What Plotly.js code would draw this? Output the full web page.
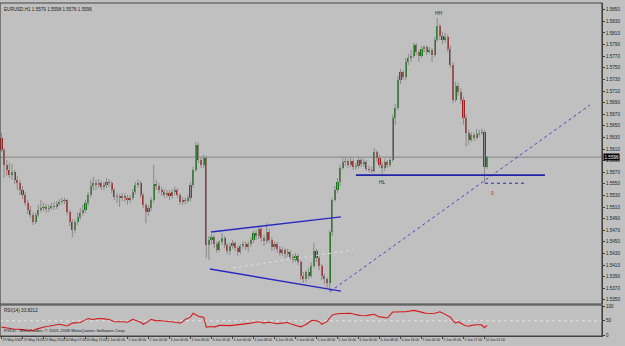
<!DOCTYPE html>
<html><head><meta charset="utf-8">
<script src="https://cdn.plot.ly/plotly-3.0.1.min.js"></script>
<style>html,body{margin:0;padding:0;background:#c0c0c0;}#chart{width:625px;height:346px;}</style>
</head><body><div id="chart"></div>
<script>
// ---- data (EURUSD H1) ----
const firstOpen = 1.5629;
const closePrices = [1.5608,1.5583,1.5574,1.5565,1.5570,1.5557,1.5551,1.5539,1.5531,1.5517,
1.5505,1.5496,1.5484,1.5496,1.5505,1.5508,1.5510,1.5507,1.5508,1.5512,
1.5510,1.5515,1.5519,1.5520,1.5522,1.5501,1.5484,1.5470,1.5484,1.5493,
1.5500,1.5505,1.5517,1.5531,1.5546,1.5551,1.5548,1.5551,1.5545,1.5548,
1.5553,1.5551,1.5539,1.5527,1.5529,1.5526,1.5529,1.5526,1.5522,1.5526,
1.5536,1.5548,1.5551,1.5531,1.5514,1.5501,1.5508,1.5522,1.5550,1.5546,
1.5539,1.5536,1.5531,1.5534,1.5529,1.5536,1.5539,1.5531,1.5519,1.5522,
1.5520,1.5526,1.5548,1.5574,1.5617,1.5591,1.5583,1.5595,1.5445,1.5453,
1.5458,1.5446,1.5436,1.5450,1.5457,1.5445,1.5434,1.5443,1.5448,1.5439,
1.5433,1.5443,1.5446,1.5441,1.5446,1.5453,1.5465,1.5460,1.5472,1.5457,
1.5451,1.5467,1.5453,1.5441,1.5446,1.5438,1.5431,1.5436,1.5429,1.5433,
1.5424,1.5419,1.5426,1.5415,1.5391,1.5386,1.5398,1.5391,1.5408,1.5434,
1.5422,1.5408,1.5391,1.5386,1.5379,1.5467,1.5522,1.5539,1.5553,1.5577,
1.5588,1.5589,1.5583,1.5589,1.5579,1.5581,1.5591,1.5584,1.5588,1.5576,
1.5574,1.5572,1.5605,1.5595,1.5583,1.5577,1.5588,1.5583,1.5591,1.5664,
1.5681,1.5729,1.5743,1.5734,1.5760,1.5767,1.5770,1.5789,1.5777,1.5770,
1.5782,1.5786,1.5777,1.5781,1.5772,1.5798,1.5822,1.5805,1.5798,1.5803,
1.5782,1.5755,1.5695,1.5719,1.5708,1.5695,1.5664,1.5638,1.5626,1.5634,
1.5629,1.5636,1.5638,1.5639,1.5579,1.5596];
const highPrices = [1.5638,1.5612,1.5591,1.5586,1.5584,1.5574,1.5564,1.5557,1.5546,1.5536,
1.5522,1.5512,1.5501,1.5500,1.5514,1.5522,1.5517,1.5515,1.5514,1.5517,
1.5519,1.5520,1.5524,1.5526,1.5526,1.5524,1.5505,1.5489,1.5489,1.5501,
1.5508,1.5514,1.5522,1.5536,1.5557,1.5562,1.5557,1.5558,1.5555,1.5553,
1.5560,1.5558,1.5555,1.5543,1.5534,1.5532,1.5534,1.5534,1.5531,1.5531,
1.5541,1.5553,1.5557,1.5555,1.5534,1.5517,1.5514,1.5527,1.5583,1.5557,
1.5551,1.5545,1.5541,1.5539,1.5539,1.5541,1.5545,1.5543,1.5534,1.5527,
1.5527,1.5531,1.5553,1.5579,1.5622,1.5621,1.5596,1.5600,1.5598,1.5460,
1.5464,1.5462,1.5451,1.5453,1.5465,1.5460,1.5448,1.5448,1.5453,1.5451,
1.5443,1.5446,1.5451,1.5450,1.5451,1.5458,1.5469,1.5470,1.5476,1.5476,
1.5462,1.5482,1.5472,1.5458,1.5451,1.5450,1.5443,1.5441,1.5439,1.5438,
1.5436,1.5429,1.5431,1.5429,1.5419,1.5398,1.5401,1.5405,1.5415,1.5448,
1.5438,1.5426,1.5412,1.5395,1.5389,1.5470,1.5526,1.5546,1.5560,1.5583,
1.5595,1.5596,1.5593,1.5595,1.5593,1.5586,1.5596,1.5595,1.5593,1.5591,
1.5581,1.5579,1.5612,1.5608,1.5600,1.5588,1.5593,1.5591,1.5596,1.5669,
1.5688,1.5736,1.5748,1.5746,1.5767,1.5774,1.5781,1.5793,1.5793,1.5781,
1.5788,1.5789,1.5789,1.5786,1.5784,1.5803,1.5836,1.5826,1.5812,1.5810,
1.5807,1.5788,1.5760,1.5726,1.5724,1.5715,1.5700,1.5669,1.5643,1.5639,
1.5638,1.5645,1.5643,1.5645,1.5643,1.5598];
const lowPrices = [1.5605,1.5560,1.5564,1.5560,1.5557,1.5550,1.5539,1.5531,1.5524,1.5512,
1.5498,1.5491,1.5479,1.5481,1.5493,1.5501,1.5503,1.5500,1.5501,1.5505,
1.5505,1.5507,1.5512,1.5514,1.5515,1.5496,1.5477,1.5458,1.5465,1.5479,
1.5488,1.5495,1.5500,1.5512,1.5526,1.5539,1.5539,1.5543,1.5539,1.5539,
1.5543,1.5545,1.5534,1.5522,1.5517,1.5510,1.5520,1.5519,1.5514,1.5517,
1.5522,1.5532,1.5543,1.5526,1.5508,1.5482,1.5495,1.5503,1.5517,1.5539,
1.5534,1.5529,1.5526,1.5526,1.5522,1.5524,1.5531,1.5526,1.5514,1.5514,
1.5515,1.5517,1.5520,1.5543,1.5570,1.5586,1.5577,1.5577,1.5422,1.5419,
1.5446,1.5439,1.5431,1.5433,1.5445,1.5439,1.5429,1.5427,1.5438,1.5434,
1.5426,1.5429,1.5438,1.5436,1.5433,1.5441,1.5448,1.5453,1.5455,1.5450,
1.5443,1.5446,1.5448,1.5434,1.5436,1.5431,1.5426,1.5426,1.5422,1.5424,
1.5419,1.5414,1.5415,1.5410,1.5384,1.5379,1.5381,1.5386,1.5388,1.5405,
1.5415,1.5401,1.5384,1.5377,1.5370,1.5364,1.5460,1.5519,1.5534,1.5546,
1.5574,1.5581,1.5577,1.5579,1.5574,1.5574,1.5576,1.5579,1.5579,1.5572,
1.5570,1.5569,1.5569,1.5588,1.5577,1.5567,1.5572,1.5577,1.5579,1.5588,
1.5652,1.5677,1.5722,1.5729,1.5729,1.5755,1.5760,1.5767,1.5772,1.5760,
1.5767,1.5777,1.5772,1.5774,1.5760,1.5769,1.5795,1.5798,1.5791,1.5793,
1.5777,1.5750,1.5689,1.5691,1.5702,1.5688,1.5652,1.5614,1.5617,1.5622,
1.5624,1.5626,1.5631,1.5634,1.5551,1.5576];
const rsiValues = [28,26,25,23,22,21,21,20,19,18,
17,17,15,20,23,26,28,30,31,33,
35,36,38,36,34,32,37,42,43,43,
44,49,54,58,56,55,57,58,58,57,
56,55,51,47,47,48,47,46,45,50,
55,52,49,45,38,42,48,55,53,50,
51,50,50,50,48,47,46,44,42,47,
55,59,63,77,70,66,64,63,28,29,
30,28,31,34,34,33,33,33,34,35,
36,37,37,38,40,42,44,46,47,44,
42,44,45,43,41,40,41,42,43,44,
40,37,34,31,29,33,37,44,50,52,
51,48,38,42,47,60,70,73,75,76,
76,77,77,77,74,71,70,69,68,68,
70,72,73,68,64,63,61,60,70,81,
81,82,82,82,82,84,86,87,85,82,
79,78,77,76,76,77,80,82,78,73,
68,63,50,42,47,41,36,33,31,34,
36,36,36,35,26,33.8212];
const timeLabels = ["29 May 2008","29 May 16:00","29 May 23:00","30 May 07:00","30 May 15:00","2 Jun 00:00",
"2 Jun 08:00","2 Jun 16:00","3 Jun 00:00","3 Jun 08:00","3 Jun 16:00","4 Jun 00:00",
"4 Jun 08:00","4 Jun 16:00","5 Jun 00:00","5 Jun 08:00","5 Jun 16:00","6 Jun 00:00",
"6 Jun 08:00","6 Jun 16:00","9 Jun 00:00","9 Jun 09:00","9 Jun 17:00","10 Jun 01:00"];
const labelEvery = 8;
const priceTicks = [1.5350,1.5370,1.5390,1.5410,1.5430,1.5450,1.5470,1.5490,1.5510,1.5530,1.5550,1.5570,1.5590,
1.5610,1.5630,1.5650,1.5670,1.5690,1.5710,1.5730,1.5750,1.5770,1.5790,1.5810,1.5830,1.5850];
const rsiTicks = [0,50,100];
const rsiLevel = 50;
// analyst drawings (bar index, price)
const hlLineBars = [135, 207],   hlLinePrices = [1.5565, 1.5565];
const wedgeUpBars = [79.8, 129.3], wedgeUpPrices = [1.5467, 1.5493];
const wedgeLoBars = [79.4, 129.3], wedgeLoPrices = [1.5403, 1.5365];
const wedgeMidBars = [88.2, 133.9], wedgeMidPrices = [1.5405, 1.5436];
const trendBars = [125.1, 224.2], trendPrices = [1.5364, 1.5686];
const targetBars = [184.2, 200.2], targetPrices = [1.5551, 1.5551];
const markText = ["HH","HL","0"], markBars = [166.7,145,187.2], markPrices = [1.5845,1.5553,1.5534];

// ---- build ----
const n = closePrices.length;
const idx = Array.from({length:n},(_,i)=>i);
const openPrices = closePrices.map((c,i)=> i===0 ? firstOpen : closePrices[i-1]);
const bull = '#1c741c', bear = '#a32020', wickCol = '#8a8a8a';
const bodyBase = openPrices.map((o,i)=>Math.min(o,closePrices[i]));
const bodyLen = openPrices.map((o,i)=>Math.max(Math.abs(closePrices[i]-o),0.00008));
const bodyCol = openPrices.map((o,i)=> closePrices[i]>=o ? bull : bear);
const wx=[], wy=[];
idx.forEach(i=>{wx.push(i,i,null); wy.push(lowPrices[i],highPrices[i],null);});

const lineTrace=(xs,ys,color,dash,w)=>({type:'scatter',mode:'lines',x:xs,y:ys,xaxis:'x',yaxis:'y',
  line:{color:color,dash:dash,width:w},hoverinfo:'skip',showlegend:false});

const traces = [
  {type:'scatter',mode:'lines',x:wx,y:wy,xaxis:'x',yaxis:'y',line:{color:wickCol,width:1},hoverinfo:'skip',showlegend:false},
  {type:'bar',x:idx,y:bodyLen,base:bodyBase,width:0.8,xaxis:'x',yaxis:'y',marker:{color:bodyCol,line:{width:0}},hoverinfo:'skip',showlegend:false},
  lineTrace(wedgeMidBars,wedgeMidPrices,'#dcdce8','dot',1),
  lineTrace(trendBars,trendPrices,'#4646c4','dot',1),
  lineTrace(targetBars,targetPrices,'#2a2aa8','dot',1),
  lineTrace(hlLineBars,hlLinePrices,'#2222a8','solid',1.6),
  lineTrace(wedgeUpBars,wedgeUpPrices,'#2a2ac0','solid',1.5),
  lineTrace(wedgeLoBars,wedgeLoPrices,'#2a2ac0','solid',1.5),
  {type:'scatter',mode:'lines',x:idx,y:rsiValues,xaxis:'x',yaxis:'y2',line:{color:'#d41c1c',width:1.1},hoverinfo:'skip',showlegend:false}
];

const last = n-1;
const f4 = v=>v.toFixed(4);
const tickFont = {family:'Liberation Sans, Arial, sans-serif',size:4.6,color:'#202020'};
const xTickFont = {family:'Liberation Sans, Arial, sans-serif',size:3.4,color:'#202020'};
const plotH = 346-3-10;
const mainBottom = 32/plotH, rsiTop = 31/plotH;
const annotations = markText.map((t,k)=>({x:markBars[k],y:markPrices[k],xref:'x',yref:'y',text:t,showarrow:false,
  font:{family:'Liberation Sans, Arial',size:5,color:t==='0'?'#c01818':'#303030'}}));
annotations.push(
  {xref:'paper',yref:'paper',x:0.004,y:0.995,xanchor:'left',yanchor:'top',showarrow:false,
   text:'EURUSD,H1 '+f4(openPrices[last])+' '+f4(highPrices[last])+' '+f4(lowPrices[last])+' '+f4(closePrices[last]),
   font:{family:'Liberation Sans, Arial',size:4.6,color:'#202020'}},
  {xref:'paper',yref:'paper',x:0.004,y:rsiTop-0.003,xanchor:'left',yanchor:'top',showarrow:false,
   text:'RSI(14) '+f4(rsiValues[last]),font:{family:'Liberation Sans, Arial',size:4.6,color:'#202020'}},
  {xref:'paper',yref:'paper',x:0.004,y:0.004,xanchor:'left',yanchor:'bottom',showarrow:false,
   text:'FXDD - MetaTrader, © 2001-2008 MetaQuotes Software Corp.',font:{family:'Liberation Sans, Arial',size:4.4,color:'#202020'}},
  {xref:'paper',yref:'y',x:1.002,y:closePrices[last],xanchor:'left',yanchor:'middle',showarrow:false,
   text:f4(closePrices[last]),bgcolor:'#000000',borderpad:0.5,font:{family:'Liberation Sans, Arial',size:4.6,color:'#ffffff'}}
);

const layout = {
  width:625,height:346,margin:{l:0,r:23,t:3,b:10},
  paper_bgcolor:'#c0c0c0',plot_bgcolor:'#c0c0c0',showlegend:false,bargap:0,
  xaxis:{range:[-0.571,228.76],anchor:'y2',showgrid:false,zeroline:false,tickangle:0,automargin:false,
    tickvals:timeLabels.map((_,k)=>k*labelEvery),ticktext:timeLabels,ticks:'outside',ticklen:2,tickcolor:'#404040',
    ticklabelposition:'outside right',ticklabelstandoff:0,tickfont:xTickFont,showline:true,linecolor:'#404040',linewidth:1},
  yaxis:{domain:[mainBottom,1],range:[1.53428,1.58617],side:'right',tickvals:priceTicks,ticktext:priceTicks.map(f4),
    ticks:'outside',ticklen:2,tickcolor:'#404040',tickfont:tickFont,showgrid:false,zeroline:false,automargin:false,
    showline:true,linecolor:'#404040',linewidth:1},
  yaxis2:{domain:[0,rsiTop],range:[-3.4,105.8],side:'right',tickvals:rsiTicks,ticktext:rsiTicks.map(String),
    ticks:'outside',ticklen:2,tickcolor:'#404040',tickfont:tickFont,showgrid:false,zeroline:false,automargin:false,
    showline:true,linecolor:'#404040',linewidth:1},
  shapes:[
    {type:'line',xref:'paper',yref:'y',x0:0,x1:1,y0:closePrices[last],y1:closePrices[last],line:{color:'#858585',width:1},layer:'below'},
    {type:'line',xref:'paper',yref:'y2',x0:0,x1:1,y0:rsiLevel,y1:rsiLevel,line:{color:'#e4e4e4',width:1,dash:'dot'},layer:'below'},
    {type:'rect',xref:'paper',yref:'paper',x0:0,x1:1,y0:mainBottom,y1:1,line:{color:'#454545',width:1.2}},
    {type:'rect',xref:'paper',yref:'paper',x0:0,x1:1,y0:0,y1:rsiTop,line:{color:'#454545',width:1.2}}
  ],
  annotations:annotations
};
Plotly.newPlot('chart',traces,layout,{staticPlot:true,displayModeBar:false});
</script></body></html>
